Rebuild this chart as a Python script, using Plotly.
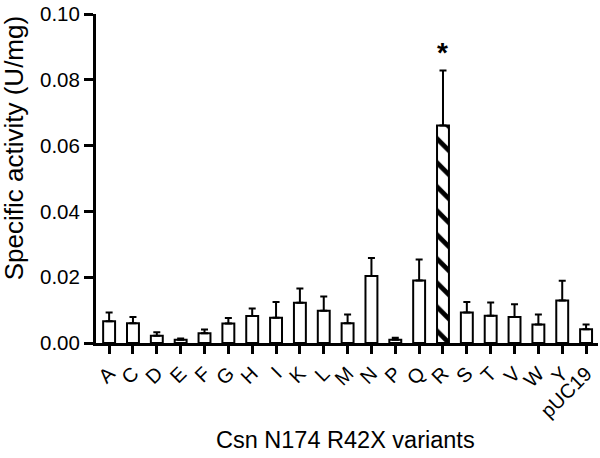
import plotly.graph_objects as go

categories = ["A", "C", "D", "E", "F", "G", "H", "I", "K", "L", "M",
              "N", "P", "Q", "R", "S", "T", "V", "W", "Y", "pUC19"]
activity = [0.0066, 0.0060, 0.0022, 0.0010, 0.0030, 0.0059, 0.0082, 0.0077,
            0.0122, 0.0098, 0.0060, 0.0204, 0.0010, 0.0190, 0.0661, 0.0093,
            0.0083, 0.0079, 0.0056, 0.0129, 0.0042]
sem = [0.0027, 0.0019, 0.0011, 0.0004, 0.0011, 0.0017, 0.0023, 0.0048,
       0.0044, 0.0043, 0.0027, 0.0054, 0.0006, 0.0064, 0.0167, 0.0032,
       0.0040, 0.0039, 0.0031, 0.0060, 0.0014]
highlight = "R"
yticks = [0.00, 0.02, 0.04, 0.06, 0.08, 0.10]

FONT = "Arial, Liberation Sans, Helvetica, sans-serif"

patterns = ["\\" if c == highlight else "" for c in categories]

fig = go.Figure()
fig.add_trace(go.Bar(
    x=categories,
    y=activity,
    width=0.5,
    marker=dict(
        color="white",
        line=dict(color="black", width=2),
        pattern=dict(shape=patterns, fgcolor="black", bgcolor="white",
                     fgopacity=1, size=17, solidity=0.28),
    ),
    error_y=dict(type="data", symmetric=False, array=sem,
                 arrayminus=[0] * len(sem), color="black",
                 thickness=2, width=3.5),
    showlegend=False,
))

hi = categories.index(highlight)
fig.add_annotation(
    x=highlight, y=activity[hi] + sem[hi], xref="x", yref="y",
    text="<b>*</b>", showarrow=False, yanchor="bottom", yshift=1,
    font=dict(family=FONT, size=28, color="black"),
)

fig.add_annotation(
    xref="paper", yref="paper", x=0, y=0.592, xanchor="center", yanchor="middle",
    xshift=-82, text="Specific activity (U/mg)", textangle=-90, showarrow=False,
    font=dict(family=FONT, size=26, color="black"),
)
fig.add_annotation(
    xref="paper", yref="paper", x=0.5, y=0, xanchor="center", yanchor="middle",
    xshift=-2, yshift=-97, text="Csn N174 R42X variants", showarrow=False,
    font=dict(family=FONT, size=23.5, color="black"),
)

fig.update_layout(
    width=600, height=458,
    margin=dict(l=96, r=2, t=12, b=115),
    paper_bgcolor="white", plot_bgcolor="white",
    font=dict(family=FONT, color="black"),
    bargap=0.5,
)
fig.update_xaxes(
    type="category", range=[-0.55, 20.5],
    tickmode="array", tickvals=categories, ticktext=categories,
    showline=True, linecolor="black", linewidth=3,
    ticks="outside", ticklen=8, tickwidth=3, tickcolor="black",
    tickangle=-45, tickfont=dict(family=FONT, size=20, color="black"),
    showgrid=False, zeroline=False,
)
fig.update_yaxes(
    range=[0, 0.10], tickvals=yticks, tickformat=".2f",
    showline=True, linecolor="black", linewidth=3,
    ticks="outside", ticklen=9, tickwidth=3, tickcolor="black",
    tickfont=dict(family=FONT, size=20.5, color="black"),
    showgrid=False, zeroline=False,
)

fig.write_html("out.html",
               config={"displayModeBar": False, "staticPlot": True},
               post_script="document.body.style.margin='0';"
                           "document.body.style.overflow='hidden';")
